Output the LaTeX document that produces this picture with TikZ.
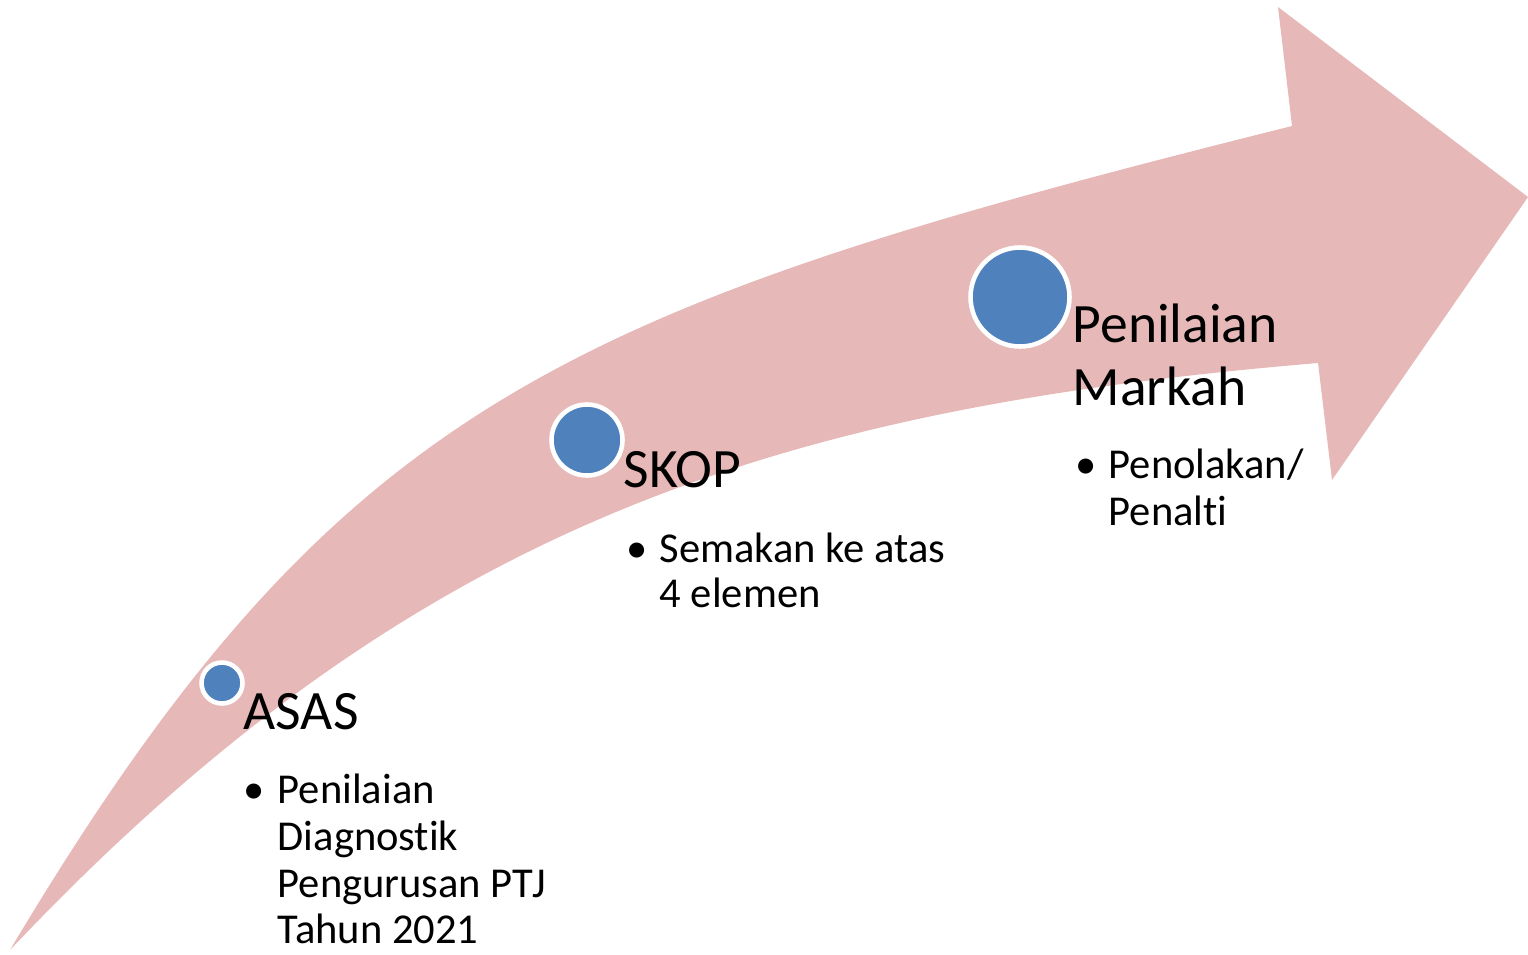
\documentclass[tikz,border=0pt]{standalone}
\usepackage{fontspec}
\setmainfont{Carlito}[Ligatures=NoCommon]
\usepackage{tikz}
\definecolor{arrowpink}{HTML}{E6B8B7}
\definecolor{stageblue}{HTML}{4F81BD}

\begin{document}
\begin{tikzpicture}[x=0.01cm,y=-0.01cm,
	headtext/.style={anchor=base west,inner sep=0pt,font=\fontsize{15.8pt}{17.9pt}\selectfont},
	itemtext/.style={anchor=base west,inner sep=0pt,font=\fontsize{12.1pt}{13.4pt}\selectfont},
	stage/.style={fill=stageblue,draw=white,line width=1.3pt}]
	\useasboundingbox (0,0) rectangle (1528,954);
	% the rising arrow
	\fill[arrowpink] (10,950) .. controls (338,400) and (565,308) .. (1292,126) -- (1278,7) -- (1528,197) -- (1332,480) -- (1318,363) .. controls (770,409) and (410,527) .. (10,950) -- cycle;
	% stages
	\draw[stage] (222,683) circle (20.5);
	\draw[stage] (587,440) circle (35.5);
	\draw[stage] (1020,297) circle (49.5);
	% ASAS
	\node[headtext] (asas) at (243,729) {ASAS};
	\node[itemtext] (asasdot) at (243,803) {•};
	\node[itemtext] (asas1) at (277,803) {Penilaian};
	\node[itemtext] (asas2) at (277,850) {Diagnostik};
	\node[itemtext] (asas3) at (277,897) {Pengurusan PTJ};
	\node[itemtext] (asas4) at (277,943) {Tahun 2021};
	% SKOP
	\node[headtext] (skop) at (623,487) {SKOP};
	\node[itemtext] (skopdot) at (626,562) {•};
	\node[itemtext] (skop1) at (659,562) {Semakan ke atas};
	\node[itemtext] (skop2) at (659,607) {4 elemen};
	% Penilaian Markah
	\node[headtext] (markah1) at (1072,342) {Penilaian};
	\node[headtext] (markah2) at (1072,405) {Markah};
	\node[itemtext] (markahdot) at (1075,478) {•};
	\node[itemtext] (markah3) at (1108,478) {Penolakan/};
	\node[itemtext] (markah4) at (1108,525) {Penalti};
\end{tikzpicture}
\end{document}
